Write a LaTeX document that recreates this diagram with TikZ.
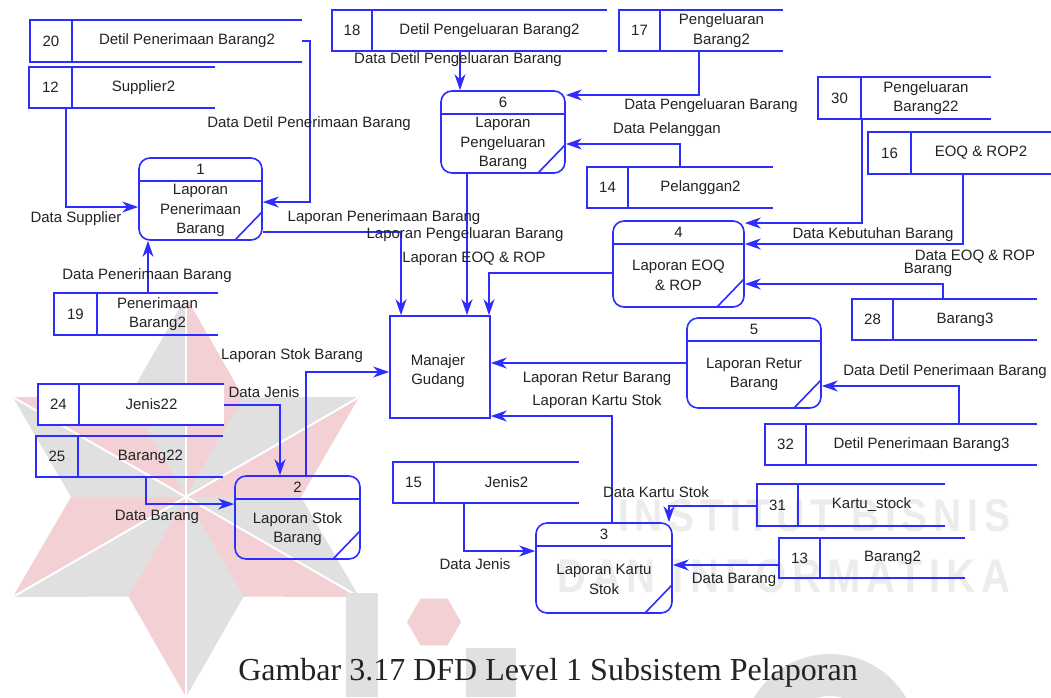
\documentclass[tikz,border=0pt]{standalone}
\usepackage{fontspec}
\usepackage{graphicx}
\setmainfont{Liberation Sans}
\newfontfamily\captionserif{Liberation Serif}
\newfontfamily\wmfont[LetterSpace=15]{Liberation Sans}
\usetikzlibrary{arrows.meta}

\definecolor{dfdblue}{RGB}{45,45,255}
\definecolor{dfdtext}{RGB}{35,35,35}
\definecolor{wmpink}{RGB}{242,208,212}
\definecolor{wmgray}{RGB}{224,224,224}
\definecolor{wmtext}{RGB}{236,236,236}

\tikzset{
  dfdline/.style={draw=dfdblue, line width=1.6pt},
  flow/.style={dfdline, -{Stealth[length=16pt,width=11pt,inset=5pt]}},
  txt/.style={text=dfdtext, font=\fontsize{15}{19.5}\selectfont, inner sep=0pt, align=center},
  procbox/.style={dfdline, rounded corners=11pt, inner sep=0pt},
  entitybox/.style={dfdline, inner sep=0pt},
  storearea/.style={inner sep=0pt},
  wmtxt/.style={text=wmtext, inner sep=0pt, font=\wmfont\bfseries\fontsize{44}{44}\selectfont},
}

% data store: name, left x, top y, divider x, right x, bottom y, number, title
\newcommand\dfdstore[8]{%
  \node[storearea, minimum width={(#5-#2)*1pt}, minimum height={(#6-#3)*1pt}]
    (#1) at ({(#2+#5)/2},{(#3+#6)/2}) {};
  \draw[dfdline] (#1.north east) -- (#1.north west) -- (#1.south west) -- (#1.south east);
  \draw[dfdline] (#4,#3) -- (#4,#6);
  \node[txt] (#1-num) at ({(#2+#4)/2},{(#3+#6)/2}) {#7};
  \node[txt] (#1-title) at ({(#4+#5)/2},{(#3+#6)/2}) {#8};
}

% process: name, left x, top y, right x, bottom y, number, title
\newcommand\dfdproc[7]{%
  \node[procbox, minimum width={(#4-#2)*1pt}, minimum height={(#5-#3)*1pt}]
    (#1) at ({(#2+#4)/2},{(#3+#5)/2}) {};
  \draw[dfdline] (#2,#3+23) -- (#4,#3+23);
  \draw[dfdline] (#4-27,#5) -- (#4,#5-28);
  \node[txt] (#1-num) at ({(#2+#4)/2},{#3+11.5}) {#6};
  \node[txt] (#1-title) at ({(#2+#4)/2},{(#3+23+#5)/2}) {#7};
}

\begin{document}
\begin{tikzpicture}[x=1pt, y=-1pt]
\useasboundingbox (0,0) rectangle (1051,697);
\fill[white] (0,0) rectangle (1051,697);

% ---- background emblem ----
\begin{scope}[shift={(186,497)}, yscale=-1]
  \foreach \a in {90,150,210,270,330,30} {
    \fill[wmpink] (0,0) -- (\a:200) -- (\a-30:115) -- cycle;
    \fill[wmgray] (0,0) -- (\a:200) -- (\a+30:115) -- cycle;
  }
  \foreach \a in {90,150,210,270,330,30}
    \draw[white, line width=2pt] (0,0) -- (\a:200);
\end{scope}
\fill[wmgray] (346,593) rectangle (378,697);
\fill[wmpink] (434,622) +(0:27) -- +(60:27) -- +(120:27) -- +(180:27) -- +(240:27) -- +(300:27) -- cycle;
\fill[wmgray] (466,648) rectangle (516,697);
\fill[wmgray, even odd rule] (830,742) circle (88) (830,742) circle (46);
\node[wmtxt, anchor=south west] (wm1) at (618,532) {\resizebox{392pt}{32pt}{INSTITUT BISNIS}};
\node[wmtxt, anchor=south west] (wm2) at (557,593) {\resizebox{453pt}{33pt}{DAN INFORMATIKA}};

% ---- data stores ----
\fill[white] (38,384) rectangle (224,425);
\dfdstore{s20}{30}{20}{72}{302}{62}{20}{Detil Penerimaan Barang2}
\dfdstore{s12}{29}{67}{72}{215}{108}{12}{Supplier2}
\dfdstore{s18}{332}{10}{372}{607}{51}{18}{Detil Pengeluaran Barang2}
\dfdstore{s17}{619}{10}{660}{783}{51}{17}{Pengeluaran\\Barang2}
\dfdstore{s30}{818}{77}{861}{991}{119}{30}{Pengeluaran\\Barang22}
\dfdstore{s16}{868}{132}{911}{1051}{174}{16}{EOQ \& ROP2}
\dfdstore{s14}{587}{167}{628}{773}{208}{14}{Pelanggan2}
\dfdstore{s28}{852}{299}{893}{1037}{340}{28}{Barang3}
\dfdstore{s19}{54}{293}{97}{218}{335}{19}{Penerimaan\\Barang2}
\dfdstore{s24}{38}{384}{79}{224}{425}{24}{Jenis22}
\dfdstore{s25}{36}{436}{78}{223}{477}{25}{Barang22}
\dfdstore{s32}{765}{424}{806}{1037}{465}{32}{Detil Penerimaan Barang3}
\dfdstore{s15}{393}{462}{434}{579}{503}{15}{Jenis2}
\dfdstore{s31}{757}{484}{798}{945}{526}{31}{Kartu\_stock}
\dfdstore{s13}{779}{538}{820}{965}{578}{13}{Barang2}

% ---- processes ----
\dfdproc{p1}{139}{158}{262}{240}{1}{Laporan\\Penerimaan\\Barang}
\dfdproc{p6}{441}{91}{565}{173}{6}{Laporan\\Pengeluaran\\Barang}
\dfdproc{p4}{613}{221}{744}{307}{4}{Laporan EOQ\\\& ROP}
\dfdproc{p5}{687}{318}{821}{408}{5}{Laporan Retur\\Barang}
\dfdproc{p3}{536}{523}{672}{613}{3}{Laporan Kartu\\Stok}
\dfdproc{p2}{235}{476}{360}{559}{2}{Laporan Stok\\Barang}

% ---- external entity ----
\node[entitybox, minimum width=100pt, minimum height=102pt] (mg) at (440,367) {};
\node[txt] (mg-title) at (438,371) {Manajer\\Gudang};

% ---- data flows ----
\draw[flow] (s20.east) -- ++(8,0) |- (p1.east |- 0,202);
\draw[flow] (s12.south -| 66,0) |- (p1.west |- 0,207);
\draw[flow] (s19.north -| 148,0) -- (p1.south -| 148,0);
\draw[flow] (p1.east |- 0,232) -| (mg.north -| 401,0);
\draw[flow] (s18.south -| 460,0) -- (p6.north -| 460,0);
\draw[flow] (s17.south -| 699,0) |- (p6.east |- 0,95);
\draw[flow] (s14.north -| 680,0) |- (p6.east |- 0,144);
\draw[flow] (p6.south -| 467,0) -- (mg.north -| 467,0);
\draw[flow] (s30.south -| 862,0) |- (p4.east |- 0,223);
\draw[flow] (s16.south -| 963,0) |- (p4.east |- 0,244);
\draw[flow] (s28.north -| 943,0) |- (p4.east |- 0,284);
\draw[flow] (p4.west |- 0,273) -| (mg.north -| 489,0);
\draw[flow] (s32.north -| 959,0) |- (p5.east |- 0,386);
\draw[flow] (p5.west |- 0,363) -- (mg.east |- 0,363);
\draw[flow] (p3.north -| 612,0) |- (mg.east |- 0,416);
\draw[flow] (s15.south -| 464,0) |- (p3.west |- 0,551);
\draw[flow] (s31.west |- 0,506) -| (p3.north -| 669,0);
\draw[flow] (s13.west |- 0,565) -- (p3.east |- 0,565);
\draw[flow] (s24.east |- 0,405) -| (p2.north -| 280,0);
\draw[flow] (s25.south -| 146,0) |- (p2.west |- 0,504);
\draw[flow] (p2.north -| 306,0) |- (mg.west |- 0,372);

% ---- flow labels ----
\node[txt] (l1) at (309,124) {Data Detil Penerimaan Barang};
\node[txt] (l2) at (76,219) {Data Supplier};
\node[txt] (l3) at (147,276) {Data Penerimaan Barang};
\node[txt] (l4) at (384,218) {Laporan Penerimaan Barang};
\node[txt] (l5) at (458,60) {Data Detil Pengeluaran Barang};
\node[txt] (l6) at (711,106) {Data Pengeluaran Barang};
\node[txt] (l7) at (667,130) {Data Pelanggan};
\node[txt] (l8) at (465,235) {Laporan Pengeluaran Barang};
\node[txt] (l9) at (873,235) {Data Kebutuhan Barang};
\node[txt] (l10) at (975,257) {Data EOQ \& ROP};
\node[txt] (l11) at (928,270) {Barang};
\node[txt] (l12) at (474,259) {Laporan EOQ \& ROP};
\node[txt] (l13) at (945,372) {Data Detil Penerimaan Barang};
\node[txt] (l14) at (597,379) {Laporan Retur Barang};
\node[txt] (l15) at (597,402) {Laporan Kartu Stok};
\node[txt] (l16) at (475,564) {Data Jenis};
\node[txt] (l17) at (656,492) {Data Kartu Stok};
\node[txt] (l18) at (734,580) {Data Barang};
\node[txt] (l19) at (264,392) {Data Jenis};
\node[txt] (l20) at (157,517) {Data Barang};
\node[txt] (l21) at (292,356) {Laporan Stok Barang};

% ---- caption ----
\node[text=dfdtext, inner sep=0pt, font=\captionserif\fontsize{32}{38}\selectfont, anchor=base]
  (caption) at (548,680) {Gambar 3.17 DFD Level 1 Subsistem Pelaporan};
\end{tikzpicture}
\end{document}
